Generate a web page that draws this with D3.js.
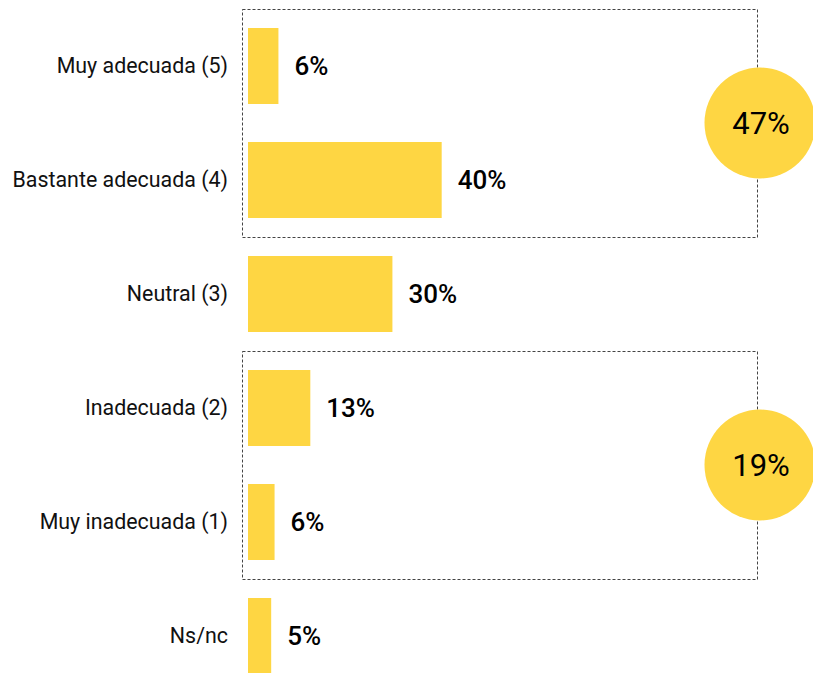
<!DOCTYPE html>
<html>
<head>
<meta charset="utf-8">
<script src="https://cdn.jsdelivr.net/npm/d3@7"></script>
<style>
  body { margin: 0; background: #fff; }
  svg { display: block; font-family: Roboto, sans-serif; }
</style>
</head>
<body>
<svg class="chart"></svg>
<script>
let width = 813, height = 673;

// data
let categories = ["Muy adecuada (5)", "Bastante adecuada (4)", "Neutral (3)", "Inadecuada (2)", "Muy inadecuada (1)", "Ns/nc"];
let values = [6.3, 40.1, 29.9, 12.9, 5.5, 4.8];
let valueLabels = ["6%", "40%", "30%", "13%", "6%", "5%"];
// grouped totals: first and last category of each group, and the label
let groupStart = ["Muy adecuada (5)", "Inadecuada (2)"];
let groupEnd = ["Bastante adecuada (4)", "Muy inadecuada (1)"];
let groupLabels = ["47%", "19%"];

let yellow = "#FED643";

let svg = d3.select(".chart")
  .attr("width", width)
  .attr("height", height);

let x = d3.scaleLinear()
  .domain([0, 100])
  .range([248, 248 + 483]);

let y = d3.scaleBand()
  .domain(categories)
  .range([9, 693])
  .paddingInner(1 / 3)
  .paddingOuter(1 / 6);

let gap = y.step() * y.paddingInner() / 2;
let boxRight = 758;

// dashed group boxes
groupStart.forEach((g, i) => {
  let top = y(g) - gap;
  let bottom = y(groupEnd[i]) + y.bandwidth() + gap;
  svg.append("rect")
    .attr("x", x(0) - 5.5)
    .attr("y", top + 0.5)
    .attr("width", boxRight - x(0) + 5)
    .attr("height", bottom - top)
    .attr("fill", "none")
    .attr("stroke", "#444")
    .attr("stroke-width", 1)
    .attr("stroke-dasharray", "3,2");
});

// bars
svg.selectAll(".bar")
  .data(categories)
  .enter().append("rect")
  .attr("class", "bar")
  .attr("x", x(0))
  .attr("y", d => y(d))
  .attr("width", (d, i) => x(values[i]) - x(0))
  .attr("height", y.bandwidth())
  .attr("fill", yellow);

// category labels
svg.selectAll(".cat")
  .data(categories)
  .enter().append("text")
  .attr("class", "cat")
  .attr("x", 228)
  .attr("y", d => y(d) + y.bandwidth() / 2)
  .attr("dy", "0.35em")
  .attr("text-anchor", "end")
  .style("font-size", "21.4px")
  .style("fill", "#111")
  .text(d => d);

// value labels
svg.selectAll(".val")
  .data(categories)
  .enter().append("text")
  .attr("class", "val")
  .attr("x", (d, i) => x(values[i]) + 16)
  .attr("y", d => y(d) + y.bandwidth() / 2)
  .attr("dy", "0.36em")
  .style("font-size", "26px")
  .style("font-weight", 500)
  .style("fill", "#000")
  .text((d, i) => valueLabels[i]);

// group total circles
groupStart.forEach((g, i) => {
  let cy = (y(g) - gap + y(groupEnd[i]) + y.bandwidth() + gap) / 2;
  svg.append("circle")
    .attr("cx", boxRight + 2)
    .attr("cy", cy)
    .attr("r", 55.5)
    .attr("fill", yellow);
  svg.append("text")
    .attr("x", boxRight + 3)
    .attr("y", cy)
    .attr("dy", "0.36em")
    .attr("text-anchor", "middle")
    .style("font-size", "31px")
    .style("fill", "#000")
    .text(groupLabels[i]);
});
</script>
</body>
</html>
